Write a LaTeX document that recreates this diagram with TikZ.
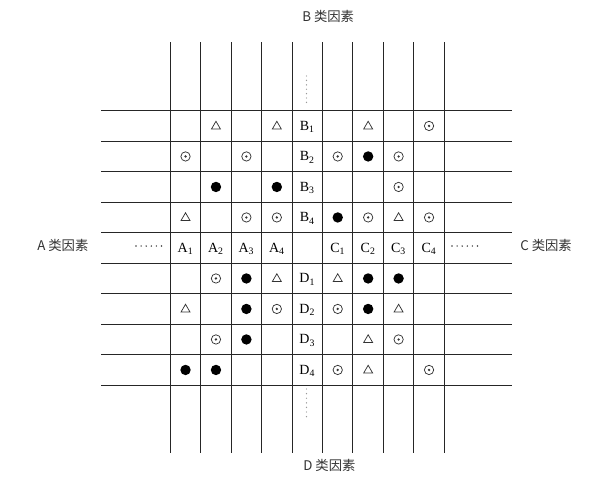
\documentclass[tikz,border=0pt]{standalone}
\usepackage{fontspec}
\setmainfont{Liberation Serif}
\newfontfamily\cjk{Noto Sans CJK SC}
\usetikzlibrary{shapes.geometric}
\tikzset{
  gridline/.style={line width=0.75pt, black!85},
  trisym/.style={regular polygon, regular polygon sides=3, draw, line width=0.55pt, inner sep=0pt, minimum size=7.8pt, black!80},
  osym/.style={circle, draw, line width=0.55pt, inner sep=0pt, minimum size=7pt, black!80},
  fsym/.style={circle, fill=black, inner sep=0pt, minimum size=7.8pt},
  lbl/.style={inner sep=0pt, font=\fontsize{10.5}{12}\selectfont},
  cat/.style={inner sep=0pt, anchor=west, font=\cjk\fontsize{10}{12}\selectfont, black!80},
}
\begin{document}
\begin{tikzpicture}[x=0.75pt,y=-0.75pt]
\useasboundingbox (0,0) rectangle (615,476);
\fill[white] (0,0) rectangle (615,476);
% grid
\foreach \i in {0,...,9}
  \draw[gridline] ({170.3+30.44*\i},42) -- ({170.3+30.44*\i},453);
\foreach \j in {0,...,9}
  \draw[gridline] (101,{110.7+30.5*\j}) -- (512,{110.7+30.5*\j});
% triangles
\foreach \c/\r [count=\n] in {1/0,3/0,6/0,0/3,7/3,3/5,5/5,0/6,7/6,6/7,6/8}
  \node[trisym] (t\n) at ({170.3+30.44*(\c+0.5)},{110.7+30.5*(\r+0.5)+0.5}) {};
% circled dots
\foreach \c/\r [count=\n] in {8/0,0/1,2/1,5/1,7/1,7/2,2/3,3/3,6/3,8/3,1/5,3/6,5/6,1/7,7/7,5/8,8/8}
  {\node[osym] (o\n) at ({170.3+30.44*(\c+0.5)},{110.7+30.5*(\r+0.5)}) {};
   \fill[black!80] (o\n.center) circle (1.3);}
% filled dots
\foreach \c/\r [count=\n] in {6/1,1/2,3/2,5/3,2/5,6/5,7/5,2/6,6/6,2/7,0/8,1/8}
  \node[fsym] (f\n) at ({170.3+30.44*(\c+0.5)},{110.7+30.5*(\r+0.5)}) {};
% B, D, A, C labels
\foreach \k in {1,...,4}
  \node[lbl] (B\k) at ({170.3+30.44*4.5},{110.7+30.5*(\k-0.5)+1}) {B\textsubscript{\k}};
\foreach \k in {1,...,4}
  \node[lbl] (D\k) at ({170.3+30.44*4.5},{110.7+30.5*(\k+4.5)+1}) {D\textsubscript{\k}};
\foreach \k in {1,...,4}
  \node[lbl] (A\k) at ({170.3+30.44*(\k-0.5)},{110.7+30.5*4.5+1}) {A\textsubscript{\k}};
\foreach \k in {1,...,4}
  \node[lbl] (C\k) at ({170.3+30.44*(\k+4.5)},{110.7+30.5*4.5+1}) {C\textsubscript{\k}};
% ellipsis dots
\foreach \k in {0,...,5} {
  \fill[black!75] ({136+5.1*\k},246) circle (0.8);
  \fill[black!75] ({452+5.1*\k},246) circle (0.8);
}
\foreach \k in {0,...,6} {
  \fill[black!40] (306.5,{76+4.4*\k}) circle (0.7);
  \fill[black!40] (306.5,{389+4.6*\k}) circle (0.7);
}
% category labels
\node[cat] (Bcat) at (302,16) {B 类因素};
\node[cat] (Dcat) at (303,465) {D 类因素};
\node[cat] (Acat) at (37,245) {A 类因素};
\node[cat] (Ccat) at (520,245) {C 类因素};
\end{tikzpicture}
\end{document}
